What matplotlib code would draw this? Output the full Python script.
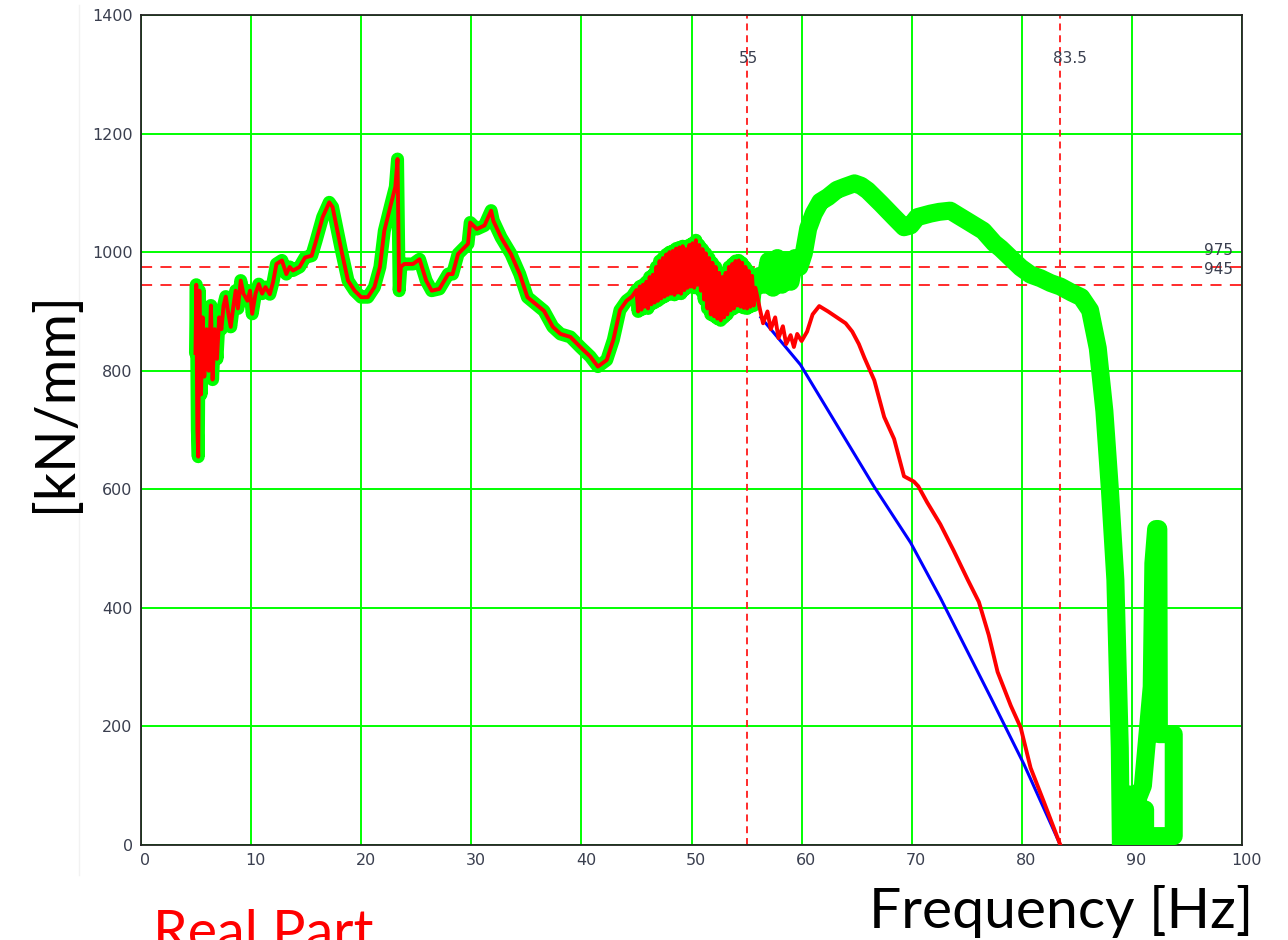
import matplotlib
matplotlib.use("Agg")
import matplotlib.pyplot as plt
import matplotlib.transforms as mtransforms
from matplotlib.lines import Line2D

# shared part of the two measured curves (green + red), Hz / kN/mm
freq_common = [4.95, 5.02, 5.12, 5.2, 5.3, 5.45, 5.6, 5.75, 5.95, 6.15, 6.35, 6.5, 6.7, 6.9,
               7.1, 7.3, 7.5, 7.7, 7.9, 8.15, 8.4, 8.6, 8.8, 9.06, 9.3, 9.67, 9.9, 10.1,
               10.4, 10.7, 11.0, 11.3, 11.7, 12.0, 12.3, 12.8, 13.2, 13.5, 13.8, 14.4, 14.9,
               15.5, 15.9, 16.5, 17.1, 17.4, 18.2, 18.8, 19.4, 20.0, 20.6, 21.2, 21.7, 22.1,
               22.7, 23.1, 23.3, 23.45, 23.6, 23.9, 24.7, 25.3, 25.9, 26.4, 27.1, 27.9, 28.3,
               28.8, 29.7, 29.9, 30.5, 31.2, 31.8, 32.0, 32.7, 33.6, 34.4, 35.1, 36.2, 36.6,
               37.4, 38.1, 39.0, 39.9, 40.8, 41.5, 42.3, 42.9, 43.5, 44.1, 44.6,
               45.0, 45.15, 45.3, 45.45, 45.6, 45.75, 45.9, 46.05, 46.2, 46.35, 46.5, 46.65,
               46.8, 46.95, 47.1, 47.25, 47.4, 47.55, 47.7, 47.85, 48.0, 48.15, 48.3, 48.45,
               48.6, 48.75, 48.9, 49.05, 49.2, 49.35, 49.5, 49.65, 49.8, 49.95, 50.1, 50.25,
               50.4, 50.55, 50.7, 50.85, 51.0, 51.15, 51.3, 51.45, 51.6, 51.75, 51.9, 52.05,
               52.2, 52.35, 52.5, 52.65, 52.8, 52.95, 53.1, 53.25, 53.4, 53.55, 53.7, 53.85,
               54.0, 54.15, 54.3, 54.45, 54.6, 54.75, 54.9, 55.05, 55.2, 55.35, 55.5, 55.65,
               55.8]
stiff_common = [830, 945, 700, 655, 935, 760, 890, 790, 870, 800, 910, 785, 870, 820,
                890, 870, 910, 925, 900, 874, 910, 935, 905, 952, 930, 918, 935, 896,
                930, 946, 930, 941, 929, 950, 980, 986, 963, 975, 969, 975, 991,
                994, 1019, 1059, 1084, 1076, 1003, 952, 935, 924, 924, 941, 975, 1036,
                1081, 1110, 1157, 935, 975, 980, 980, 988, 952, 935, 938, 963, 963,
                997, 1014, 1050, 1039, 1045, 1070, 1053, 1025, 997, 963, 924, 907, 901,
                874, 862, 857, 840, 824, 807, 818, 852, 902, 918, 925,
                936, 900, 942, 903, 945, 908, 950, 905, 958, 912, 962, 915,
                975, 918, 985, 922, 990, 925, 996, 928, 1000, 930, 1002, 928,
                1006, 932, 1008, 930, 1010, 936, 1005, 940, 1012, 942, 1015, 940,
                1020, 945, 1012, 935, 1005, 920, 998, 905, 990, 895, 982, 892,
                975, 888, 965, 885, 958, 890, 965, 895, 975, 902, 980, 905,
                985, 910, 986, 908, 982, 906, 975, 905, 968, 908, 960, 910,
                940]

# red curve after it leaves the green one
red_tail_f = [56.2, 56.5, 56.9, 57.2, 57.6, 57.9, 58.3, 58.6, 59.0, 59.3, 59.6, 60.0, 60.5,
              61.0, 61.6, 62.4, 63.2, 64.0, 64.6, 65.2, 65.7, 66.6, 67.5, 68.4, 69.3, 70.2,
              70.6, 71.4, 72.6, 73.8, 75.1, 76.1, 77.0, 77.8, 79.0, 79.9, 80.8, 82.0, 83.5]
red_tail_v = [905, 880, 900, 870, 890, 855, 875, 845, 860, 840, 862, 850, 866,
              895, 909, 900, 890, 880, 866, 845, 822, 784, 722, 685, 622, 613,
              605, 578, 541, 497, 447, 410, 354, 292, 235, 198, 130, 73, 0]

# green curve after 55.8 Hz (ends in the ragged block near 90 Hz)
green_tail_f = [55.8, 56.2, 56.6, 57.0, 57.4, 57.8, 58.2, 58.6, 59.0, 59.4, 59.8, 60.2, 60.6,
                61.1, 61.7, 62.4, 63.2, 63.9, 64.8, 65.4, 66.0, 67.2, 68.4, 69.3, 69.9, 70.5,
                71.7, 72.5, 73.5, 74.2, 75.0, 76.5, 77.5, 78.1, 79.0, 79.9, 80.8, 81.7, 82.6,
                83.5, 84.5, 85.4, 86.2, 86.9, 87.5, 88.0, 88.5, 88.7, 88.9, 89.0,
                90.5, 90.4, 89.5, 89.5, 91.0, 91.8, 91.95, 92.2, 92.4, 92.45, 93.8, 93.8,
                91.2, 91.2]
green_tail_v = [940, 960, 945, 985, 940, 990, 945, 985, 950, 990, 975, 998, 1040,
                1065, 1085, 1093, 1105, 1110, 1116, 1112, 1104, 1082, 1059, 1042, 1045, 1059,
                1065, 1068, 1070, 1062, 1053, 1036, 1015, 1006, 990, 974, 962, 956, 948,
                942, 932, 924, 902, 838, 732, 600, 447, 305, 164, 0,
                10, 85, 85, 30, 100, 267, 475, 533, 533, 187, 187, 15,
                15, 60]

# blue line
blue_f = [56.3, 59.9, 66.6, 69.9, 72.6, 77.2, 80.2, 83.5]
blue_v = [890, 810, 604, 510, 417, 248, 136, 0]

vlines = [55, 83.5]
vline_labels = ["55", "83.5"]
hlines = [975, 945]
hline_labels = ["975", "945"]

plt.rcParams['lines.scale_dashes'] = False

fig = plt.figure(figsize=(12.88, 9.4), dpi=100)
ax = fig.add_axes([141 / 1288, 1 - 845 / 940, 1101 / 1288, 830 / 940])

ax.set_xlim(0, 100)
ax.set_ylim(0, 1400)
ax.set_xticks(range(0, 101, 10))
ax.set_yticks(range(0, 1401, 200))
ax.grid(True, color='#00ff00', lw=1.4)
ax.set_axisbelow(True)
ax.tick_params(length=0, labelsize=11.5, colors='#3a3f4f', pad=6)
for s in ax.spines.values():
    s.set_linewidth(1.3)
    s.set_color('#222222')

shift = mtransforms.ScaledTranslation(4.5 / 100, 0, fig.dpi_scale_trans)
for lab in ax.get_xticklabels():
    lab.set_transform(lab.get_transform() + shift)

# reference lines
for v in vlines:
    ax.axvline(v, color='#ff1a1a', lw=1.3, ls=(0, (5, 3.5)), zorder=1.5)
for h in hlines:
    ax.axhline(h, color='#ff1a1a', lw=1.3, ls=(0, (8, 6)), zorder=1.5)

ax.text(vlines[0] + 0.2, 1327, vline_labels[0], ha='center', va='center',
        fontsize=11, color='#3a3f4f')
ax.text(vlines[1] + 0.9, 1327, vline_labels[1], ha='center', va='center',
        fontsize=11, color='#3a3f4f')
ax.text(99.15, hlines[0] + 27, hline_labels[0], ha='right', va='center',
        fontsize=11, color='#3a3f4f')
ax.text(99.15, hlines[1] + 26, hline_labels[1], ha='right', va='center',
        fontsize=11, color='#3a3f4f')

red_f = freq_common + red_tail_f
red_v = stiff_common + red_tail_v

ax.plot(freq_common, stiff_common, color='#00ff00', lw=9.4, solid_joinstyle='round',
        solid_capstyle='round', zorder=3)
ax.plot(green_tail_f, green_tail_v, color='#00ff00', lw=13, solid_joinstyle='round',
        solid_capstyle='round', zorder=3)
ax.plot(blue_f, blue_v, color='#0000ff', lw=2.2, zorder=4)
ax.plot(red_f, red_v, color='#ff0000', lw=2.8, solid_joinstyle='round', zorder=5)

# faint edge of the pasted picture
fig.add_artist(Line2D([79 / 1288, 79 / 1288], [1 - 875 / 940, 1 - 5 / 940],
                      color='#f2f2f2', lw=1))

fig.text(55 / 1288, 1 - 402 / 940, "[kN/mm]", rotation=90, ha='center', va='center',
         fontsize=40, family='Lato', color='black')
fig.text(1253 / 1288, 1 - 928 / 940, "Frequency [Hz]", ha='right', va='baseline',
         fontsize=41, family='Lato', color='black')
fig.text(153 / 1288, 1 - 950 / 940, "Real Part", ha='left', va='baseline',
         fontsize=40, family='Lato', color='#ff0000')

fig.savefig("out.png", dpi=100)
